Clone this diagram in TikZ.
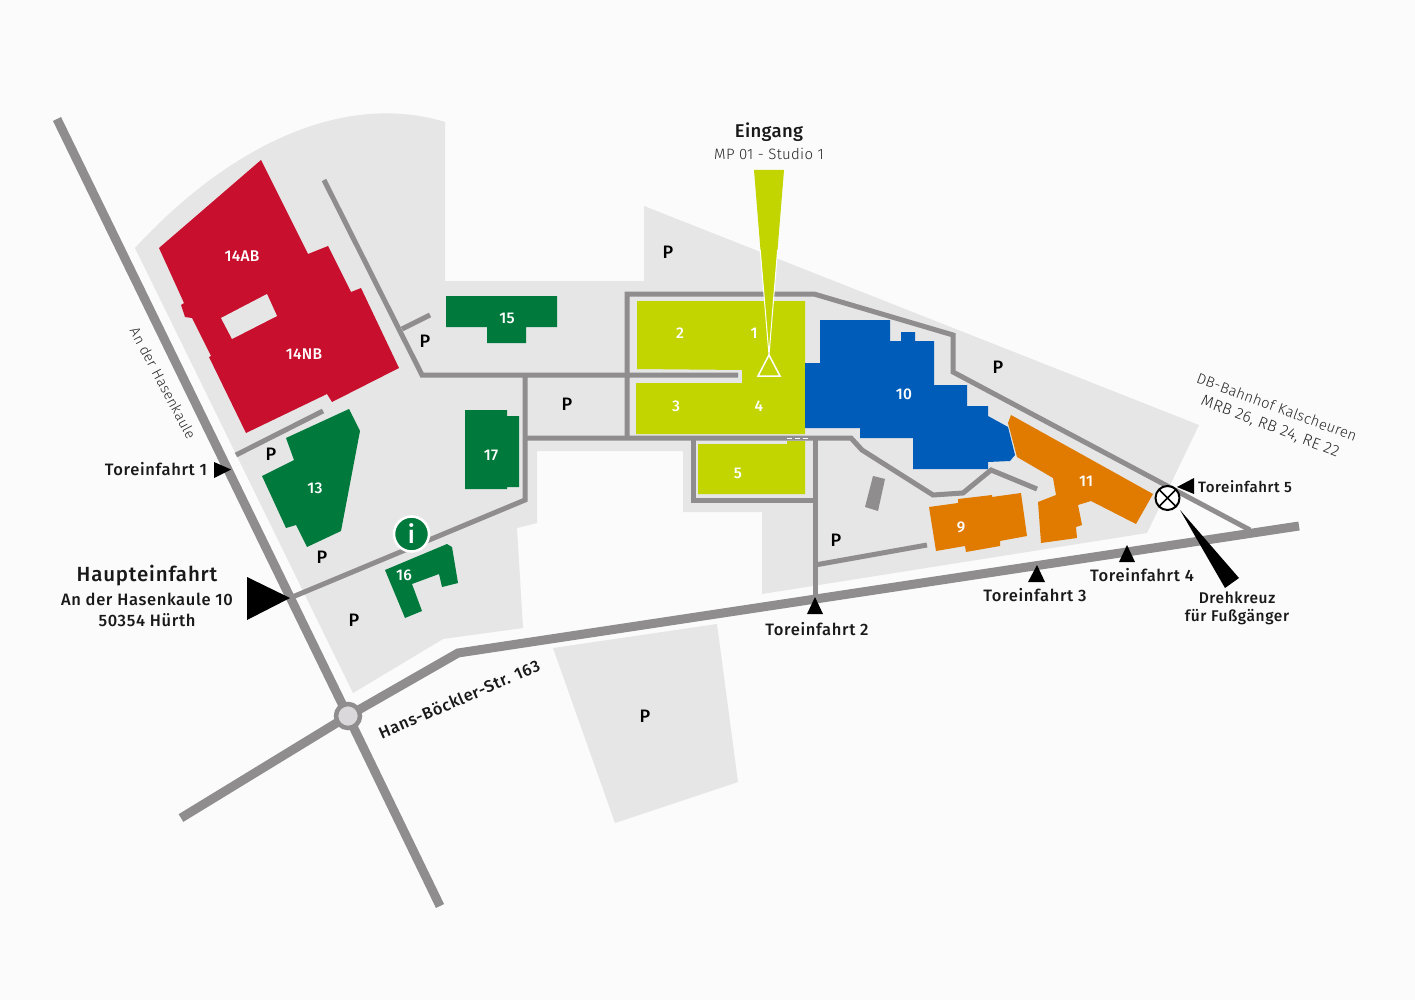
\documentclass[tikz,border=0pt]{standalone}
\usepackage{fontspec}
\setmainfont{Fira Sans}
\newfontfamily\medf[LetterSpace=4]{Fira Sans Medium}
\newfontfamily\numf[LetterSpace=2]{Fira Sans Medium}
\newfontfamily\lightf[LetterSpace=2]{Fira Sans Light}
\definecolor{bgc}{HTML}{FBFBFB}
\definecolor{areac}{HTML}{E6E6E6}
\definecolor{roadc}{HTML}{8F8D8E}
\definecolor{redc}{HTML}{C8102E}
\definecolor{greenc}{HTML}{007A3C}
\definecolor{limec}{HTML}{C2D500}
\definecolor{bluec}{HTML}{005CB9}
\definecolor{orangec}{HTML}{E07B00}
\definecolor{ringc}{HTML}{DAD8DB}
\tikzset{
  area/.style={fill=areac,draw=none},
  road/.style={draw=roadc,line width=9pt,line join=miter},
  lane/.style={draw=roadc,line width=5pt,line join=miter},
  house/.style={draw=none},
  num/.style={text=white,font=\numf\fontsize{15.5}{15.5}\selectfont,inner sep=0pt},
  park/.style={text=black,font=\numf\fontsize{18}{18}\selectfont,inner sep=0pt},
  gate/.style={text=black!90,font=\medf\fontsize{16.5}{17}\selectfont,inner sep=0pt},
  grey text/.style={text=black!85,font=\lightf\fontsize{15}{16}\selectfont,inner sep=0pt},
  pointer/.style={fill=black,draw=none}
}
\begin{document}
\begin{tikzpicture}[x=1pt,y=-1pt]
\fill[bgc] (0,0) rectangle (1415,1000);
\useasboundingbox (0,0) rectangle (1415,1000);
% grounds
\path[area] (135,248) .. controls (225,150) and (340,90) .. (445,122) -- (445,281) -- (644,281) -- (644,206)
  -- (1199,425) -- (1147,533) -- (762,594) -- (762,512) -- (683,512) -- (683,451) -- (537,451) -- (537,523)
  -- (517,528) -- (523,628) -- (443,639) -- (353,693) -- cycle;
\path[area] (553,648) -- (717,624) -- (738,782) -- (615,823) -- cycle;
% outer roads
\draw[road] (57,119) -- (348,716) -- (440,906);
\draw[road] (181,818) -- (348,716) -- (458,653) -- (1299,526);
\node[circle,draw=roadc,line width=4.5pt,fill=ringc,minimum size=24pt,inner sep=0pt] (round) at (348,716) {};
% inner roads
\draw[lane] (324,180) -- (422,375) -- (738,375);
\draw[lane] (402,329) -- (430,315);
\draw[lane] (525,375) -- (525,500) -- (290,598);
\draw[lane] (525,438) -- (851,438) -- (862,450) -- (933,495) -- (963,493) -- (991,470) -- (1037,489);
\draw[lane] (627,438) -- (627,294) -- (814,294) -- (953,335) -- (953,372) -- (1250,530);
\draw[lane] (693,438) -- (693,500) -- (815,500);
\draw[lane] (815,438) -- (815,600);
\draw[lane] (815,565) -- (927,545);
\draw[lane] (236,455) -- (323,411);
\draw[white,line width=1.5pt,dash pattern=on 5pt off 3pt] (787,438.5) -- (808,438.5);
% buildings
\fill[redc,house] (261,160) -- (308,254) -- (328,246) -- (351,292) -- (361,288) -- (399,368) -- (332,402) -- (327,394)
  -- (246,433) -- (209,357) -- (211,356) -- (192,318) -- (185,317) -- (181,305) -- (184,303) -- (159,248) -- cycle;
\fill[areac,house] (267,294) -- (277,316) -- (232,339) -- (221,318) -- cycle;
\fill[greenc,house] (446,296) -- (557,296) -- (557,327) -- (526,327) -- (526,343) -- (487,343) -- (487,327) -- (446,327) -- cycle;
\fill[greenc,house] (465,410) -- (507,410) -- (507,416) -- (519,416) -- (519,487) -- (507,487) -- (507,489) -- (465,489) -- cycle;
\fill[greenc,house] (349,409) -- (360,431) -- (341,531) -- (307,547) -- (296,525) -- (286,528) -- (262,476) -- (294,460) -- (286,438) -- cycle;
\fill[greenc,house] (385,570) -- (447,544) -- (452,547) -- (458,583) -- (442,587) -- (439,574) -- (412,584) -- (422,611) -- (405,618) -- cycle;
\fill[limec,house] (637,301) -- (805,301) -- (805,434) -- (636,434) -- (636,383) -- (742,383) -- (742,370) -- (637,369) -- cycle;
\fill[limec,house] (698,444) -- (787,444) -- (787,441) -- (805,441) -- (805,494) -- (698,494) -- cycle;
\fill[bluec,house] (820,320) -- (890,320) -- (890,341) -- (901,341) -- (901,332) -- (915,332) -- (915,341) -- (934,341)
  -- (934,385) -- (967,385) -- (967,406) -- (988,406) -- (988,416) -- (1008,427) -- (1015,455) -- (1010,461) -- (988,462)
  -- (988,469) -- (913,469) -- (913,438) -- (860,438) -- (860,428) -- (805,428) -- (805,363) -- (820,363) -- cycle;
\fill[orangec,house] (929,507) -- (958,503) -- (958,499) -- (992,495) -- (992,497) -- (1021,493) -- (1027,536) -- (1000,541)
  -- (1000,546) -- (966,552) -- (965,546) -- (936,551) -- cycle;
\fill[orangec,house] (1011,415) -- (1153,494) -- (1136,524) -- (1091,501) -- (1078,505) -- (1082,525) -- (1076,527) -- (1077,538)
  -- (1041,543) -- (1038,502) -- (1056,495) -- (1053,478) -- (1017,457) -- (1008,423) -- cycle;
\fill[roadc,house] (873,476) -- (885,479) -- (878,511) -- (865,507) -- cycle;
% entrance funnel
\fill[limec] (754,170) -- (784,170) -- (769,355) -- cycle;
\draw[white,line width=1pt] (760.2,250) -- (769,355) -- (777.6,250);
\draw[white,line width=1.5pt,line join=miter] (769,355) -- (758,376) -- (780,376) -- cycle;
% pointers
\fill[pointer] (214,462) -- (214,478) -- (231,469.5) -- cycle;
\fill[pointer] (247,577) -- (247,620) -- (290,598) -- cycle;
\fill[pointer] (815,597) -- (807,614) -- (823,614) -- cycle;
\fill[pointer] (1037,565) -- (1028,582) -- (1045,582) -- cycle;
\fill[pointer] (1127,545) -- (1119,562) -- (1135,562) -- cycle;
\fill[pointer] (1177,487) -- (1194,478) -- (1194,494) -- cycle;
\fill[pointer] (1180,510) -- (1239,578) -- (1225,588) -- cycle;
% turnstile
\node[circle,draw=black,line width=2pt,fill=white,minimum size=24pt,inner sep=0pt,
  path picture={\draw[black,line width=1.6pt] (path picture bounding box.north west) -- (path picture bounding box.south east)
  (path picture bounding box.north east) -- (path picture bounding box.south west);}] (turn) at (1167.5,498) {};
% info
\node[circle,fill=greenc,draw=white,line width=2.5pt,minimum size=35pt,inner sep=0pt,text=white,
  font=\numf\fontsize{25}{25}\selectfont] (info) at (411.5,534) {i};
% building numbers
\node[num] (n14ab) at (242,256) {14AB};
\node[num] (n14nb) at (304,354) {14NB};
\node[num] (n15) at (507,318) {15};
\node[num] (n13) at (315,488) {13};
\node[num] (n17) at (491,455) {17};
\node[num] (n16) at (404,575) {16};
\node[num] (n1) at (754,333) {1};
\node[num] (n2) at (680,333) {2};
\node[num] (n3) at (676,406) {3};
\node[num] (n4) at (759,406) {4};
\node[num] (n5) at (738,473) {5};
\node[num] (n10) at (904,394) {10};
\node[num] (n9) at (961,527) {9};
\node[num] (n11) at (1086,481) {11};
% parking
\node[park] (p1) at (668,252) {P};
\node[park] (p2) at (425,341) {P};
\node[park] (p3) at (271,454) {P};
\node[park] (p4) at (322,557) {P};
\node[park] (p5) at (354,620) {P};
\node[park] (p6) at (567,404) {P};
\node[park] (p7) at (645,716) {P};
\node[park] (p8) at (998,367) {P};
\node[park] (p9) at (836,540) {P};
% labels
\node[text=black!90,font=\numf\fontsize{18.5}{19}\selectfont,inner sep=0pt] (eing) at (769,132) {Eingang};
\node[grey text] (studio) at (769,154) {MP 01 - Studio 1};
\node[text=black!90,font=\medf\fontsize{20.5}{21}\selectfont,inner sep=0pt] (haupt) at (147,576) {Haupteinfahrt};
\node[gate] (addr1) at (147,599) {An der Hasenkaule 10};
\node[gate] (addr2) at (147,620) {50354 Hürth};
\node[gate] (t1) at (156,469) {Toreinfahrt 1};
\node[gate] (t2) at (817,629) {Toreinfahrt 2};
\node[gate] (t3) at (1035,595) {Toreinfahrt 3};
\node[gate] (t4) at (1142,575) {Toreinfahrt 4};
\node[gate,font=\medf\fontsize{15}{15}\selectfont] (t5) at (1245,487) {Toreinfahrt 5};
\node[gate,font=\medf\fontsize{15.5}{15.5}\selectfont] (dk1) at (1237,598) {Drehkreuz};
\node[gate,font=\medf\fontsize{15.5}{15.5}\selectfont] (dk2) at (1237,617) {für Fußgänger};
\node[grey text,rotate=-62,font=\lightf\fontsize{14.3}{15}\selectfont] (hk) at (163,383) {An der Hasenkaule};
\node[gate,rotate=23.5] (hb) at (459,699) {Hans-Böckler-Str. 163};
\node[grey text,rotate=-20.5,font=\lightf\fontsize{14.7}{15}\selectfont] (db1) at (1277,407) {DB-Bahnhof Kalscheuren};
\node[grey text,rotate=-21,font=\lightf\fontsize{15.8}{16}\selectfont] (db2) at (1270,427) {MRB 26, RB 24, RE 22};
\end{tikzpicture}
\end{document}
